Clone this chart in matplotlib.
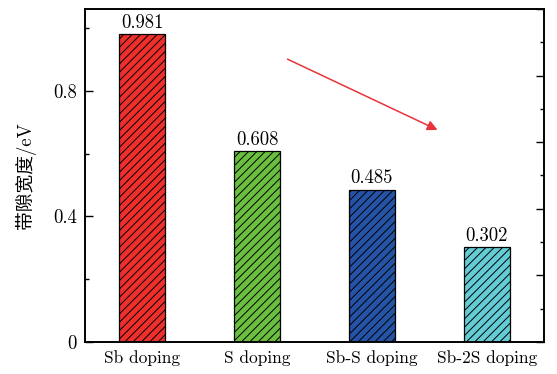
import matplotlib
matplotlib.use('Agg')
import matplotlib.pyplot as plt
from matplotlib.ticker import MultipleLocator

# ── Data ──────────────────────────────────────────────────────────────────────
categories = ['Sb doping', 'S doping', 'Sb-S doping', 'Sb-2S doping']
band_gap = [0.981, 0.608, 0.485, 0.302]
bar_colours = ['#ee302c', '#6abf3e', '#2553a6', '#64ccd4']

plt.rcParams['font.family'] = ['cmr10', 'Noto Sans CJK SC']
plt.rcParams['mathtext.fontset'] = 'cm'
plt.rcParams['axes.formatter.use_mathtext'] = True
plt.rcParams['hatch.linewidth'] = 0.7

fig = plt.figure(figsize=(5.57, 3.74), dpi=100)
ax = fig.add_axes([0.1526, 0.0856, 0.8241, 0.8903])

x = range(len(categories))
bars = ax.bar(x, band_gap, width=0.4, color=bar_colours,
              edgecolor='black', linewidth=0.9, hatch='////')

# value labels above each bar
for xi, v in zip(x, band_gap):
    ax.text(xi, v + 0.008, f'{v:.3f}', ha='center', va='bottom',
            fontsize=13.5)

# downward trend arrow
ax.annotate('', xy=(2.594, 0.672), xytext=(1.243, 0.905),
            arrowprops=dict(arrowstyle='-|>', color='#e8333a', lw=1.1,
                            mutation_scale=15))

ax.set_xlim(-0.5, 3.5)
ax.set_ylim(0, 1.061)
ax.set_xticks(list(x))
ax.set_xticklabels(categories, fontsize=12.5)
ax.tick_params(axis='x', length=0, pad=6)

ax.yaxis.set_major_locator(MultipleLocator(0.4))
ax.yaxis.set_minor_locator(MultipleLocator(0.2))
ax.set_yticks([0, 0.4, 0.8])
ax.set_yticklabels(['0', '0.4', '0.8'], fontsize=13.5)
ax.tick_params(axis='y', which='major', direction='in', length=6, width=1,
               pad=6)
ax.tick_params(axis='y', which='minor', direction='in', length=3, width=1)
ax.set_ylabel('带隙宽度/eV', fontsize=13.5, labelpad=12)

for s in ax.spines.values():
    s.set_linewidth(1.2)

# right-hand frame ticks
ax2 = ax.twinx()
ax2.set_ylim(0, 10)
ax2.yaxis.set_major_locator(MultipleLocator(2))
ax2.yaxis.set_minor_locator(MultipleLocator(1))
ax2.tick_params(axis='y', which='major', direction='in', length=6, width=1,
                labelright=False)
ax2.tick_params(axis='y', which='minor', direction='in', length=3, width=1)
for s in ax2.spines.values():
    s.set_linewidth(1.2)

fig.savefig('out.png', dpi=100)
